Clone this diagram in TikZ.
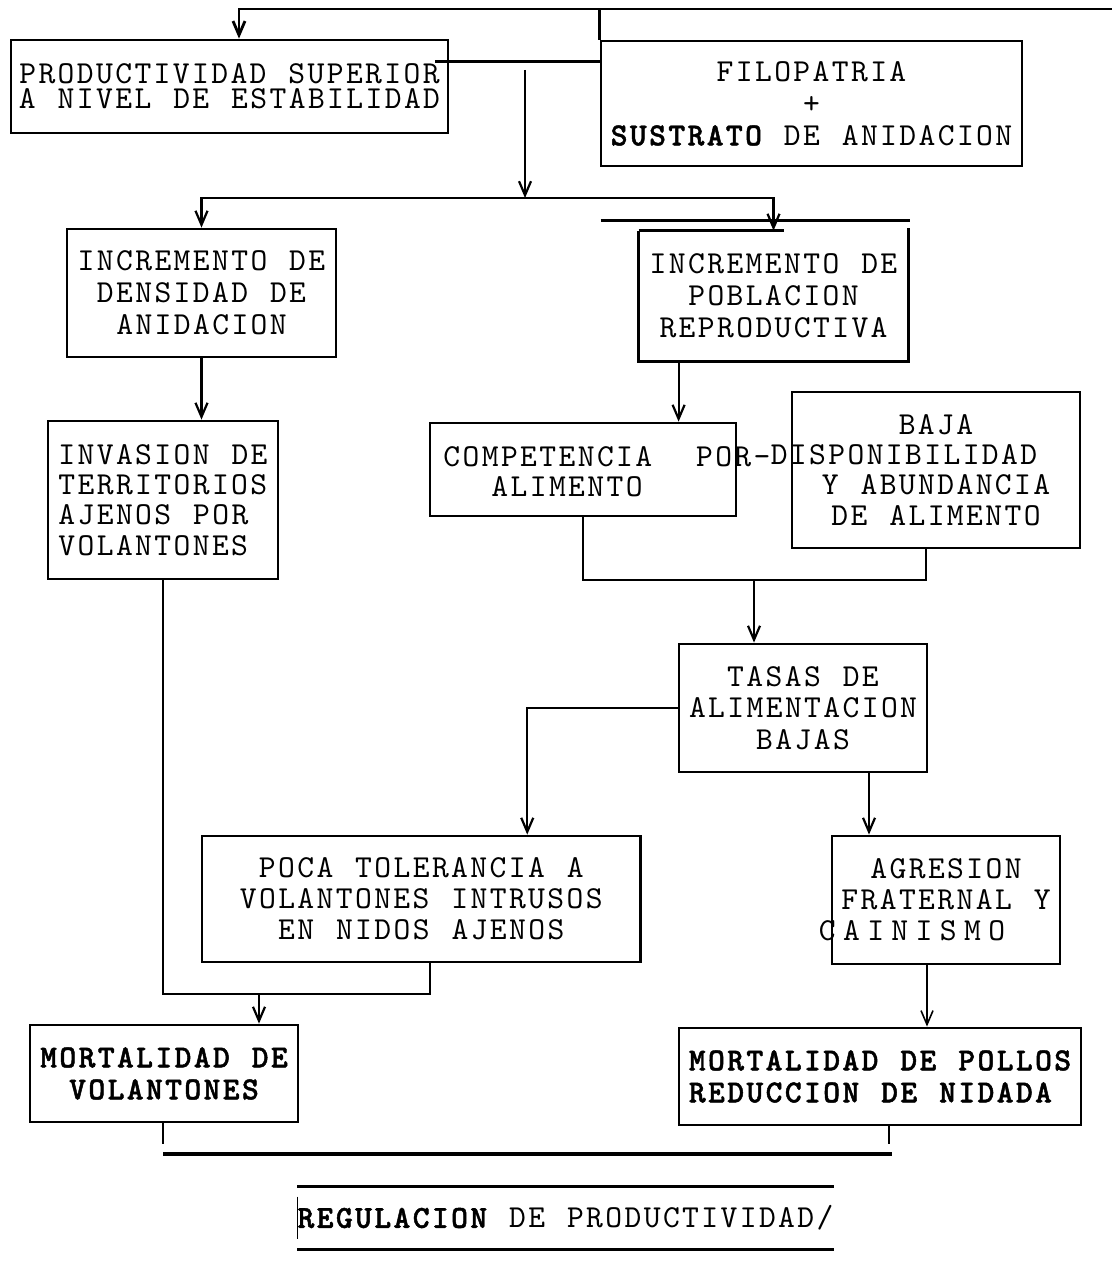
\documentclass[tikz,border=0pt]{standalone}
\usepackage{fontspec}
\newfontfamily\tw{lmmono10-regular}[Extension=.otf,BoldFont=lmmonolt10-bold,BoldFeatures={FakeBold=1.5},LetterSpace=7.5,WordSpace={1.143,0,0}]
\usetikzlibrary{arrows.meta,calc}

\begin{document}
\begin{tikzpicture}[x=0.5pt,y=-0.5pt,
		lead/.style={font=\tw\fontsize{16}{#1}\selectfont},
		bold/.style={font=\tw\bfseries\fontsize{16}{16}\selectfont},
		box/.style={draw,line width=1.4pt,inner sep=0pt,align=center,lead=16},
		line/.style={line width=1.2pt},
		arr/.style={line width=1.1pt,-{Straight Barb[length=7pt,width=6pt]}}]
	\useasboundingbox (0,0) rectangle (1112,1278);

	% cajas
	\node[box,lead=12.5,minimum width=218.5pt,minimum height=46.5pt] (prod) at (229.5,86.5) {PRODUCTIVIDAD SUPERIOR\\A NIVEL DE ESTABILIDAD};
	\node[box,minimum width=210.5pt,minimum height=62.5pt] (filo) at (811.5,103.5) {FILOPATRIA\\+\\{\bfseries SUSTRATO} DE ANIDACION};
	\node[box,minimum width=134.5pt,minimum height=64pt] (dens) at (201.5,293) {INCREMENTO DE\\DENSIDAD DE\\ANIDACION};
	\node[box,draw=none,minimum width=133.5pt,minimum height=64pt] (pob) at (773.5,296) {INCREMENTO DE\\POBLACION\\REPRODUCTIVA};
	\node[box,lead=15.2,align=left,minimum width=115pt,minimum height=79pt] (inv) at (163,500) {INVASION DE\\TERRITORIOS\\AJENOS POR\\VOLANTONES};
	\node[box,minimum width=153pt,minimum height=46.5pt] (comp) at (583,469.5) {};
	\node[lead=15,align=left,anchor=west,inner sep=0pt] (comptxt) at (443,472) {COMPETENCIA\ \ POR-\\\hspace*{24pt}ALIMENTO};
	\node[box,lead=15.2,minimum width=144pt,minimum height=78pt] (baja) at (936,470) {BAJA\\\hspace*{-32pt}DISPONIBILIDAD\\Y ABUNDANCIA\\DE ALIMENTO};
	\node[box,lead=15.75,minimum width=124pt,minimum height=64pt] (tasas) at (803,708) {TASAS DE\\ALIMENTACION\\BAJAS};
	\node[box,lead=15.5,minimum width=219.25pt,minimum height=63pt] (poca) at (421.25,899) {POCA TOLERANCIA A\\VOLANTONES INTRUSOS\\EN NIDOS AJENOS};
	\node[box,lead=15.5,minimum width=114pt,minimum height=64pt] (agr) at (946,900) {AGRESION\\FRATERNAL Y\\\hspace*{-34pt}C\kern3.7pt A\kern3.7pt I\kern3.7pt N\kern3.7pt I\kern3.7pt S\kern3.7pt M\kern3.7pt O};
	\node[box,bold,minimum width=134pt,minimum height=48.5pt] (mortv) at (164,1073.5) {MORTALIDAD DE\\VOLANTONES};
	\node[box,bold,align=left,minimum width=201pt,minimum height=48.5pt] (mortp) at (880,1076.5) {MORTALIDAD DE POLLOS\\REDUCCION DE NIDADA};
	\node[lead=16,inner sep=0pt,minimum width=267.5pt,minimum height=31pt] (reg) at (565.5,1218) {{\bfseries REGULACION} DE PRODUCTIVIDAD/};

	% caja de poblacion, abierta arriba
	\draw[line width=1.4pt] (pob.north west) |- (pob.south east) -- ($(pob.north east)+(0,-3)$);
	\draw[line width=1.4pt] (pob.north west) -- ($(pob.north)+(10,0)$);
	\draw[line] ($(pob.north west)+(-38,-10)$) -- ($(pob.north east)+(2,-10)$);

	\coordinate (topend) at (1112,9);
	\coordinate (src) at (525,70);
	\coordinate (split) at (525,198);
	\coordinate (mid) at (754,580);
	\coordinate (mv) at (259,994);

	% conectores
	\draw[arr,line width=1.4pt] (topend) -| ($(prod.north)+(9.5,0)$);
	\draw[line] (filo.north west) -- (filo.north west |- topend);
	\draw[line] ($(filo.north west)+(0,22)$) coordinate (f1) -- ($(prod.east |- f1)+(-14,0)$);
	\draw[arr] (src) -- (split);
	\draw[arr] (split) -| (dens.north);
	\draw[arr] (split) -| (pob.north);
	\draw[arr] (dens.south) -- (dens.south |- inv.north);
	\draw[arr] ($(pob.south west)+(40,0)$) coordinate (p1) -- (p1 |- comp.north);
	\draw[line] (comp.south) |- (mid) -| ($(baja.south)+(-10,0)$);
	\draw[arr] (mid) -- (mid |- tasas.north);
	\draw[arr] (tasas.west) -| ($(poca.north)+(106,0)$);
	\draw[arr] ($(tasas.south)+(66,0)$) coordinate (t1) -- (t1 |- agr.north);
	\draw[line] (inv.south) |- (mv) -| ($(poca.south)+(9,0)$);
	\draw[arr] (mv) -- (mv |- mortv.north);
	\draw[arr,line width=0.8pt] ($(agr.south)+(-19,0)$) coordinate (a1) -- (a1 |- mortp.north);

	% cierre inferior
	\draw[line width=0.6pt] ($(mortv.south)+(-1,0)$) -- ++(0,21);
	\draw[line width=0.6pt] ($(mortp.south)+(9,0)$) -- ++(0,18);
	\draw[line width=2pt] ($(mortv.south)+(-1,31)$) -- ($(mortp.south)+(12,28)$);
	\draw[line width=1.8pt] (reg.north west) -- (reg.north east);
	\draw[line width=1.8pt] (reg.south west) -- (reg.south east);
	\draw[line width=0.6pt] ($(reg.north west)+(0,10)$) -- ($(reg.south west)+(0,-10)$);
\end{tikzpicture}
\end{document}
